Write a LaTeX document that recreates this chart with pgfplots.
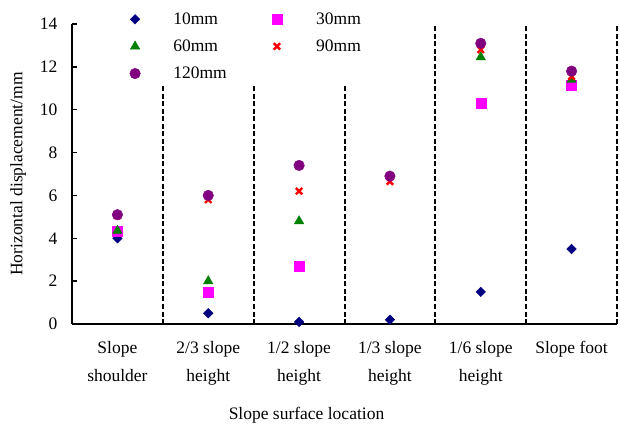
\documentclass[border=0pt]{standalone}
\usepackage{fontspec}
\setmainfont{Liberation Serif}
\usepackage{pgfplots}
\pgfplotsset{compat=1.18}

\definecolor{cNavy}{RGB}{0,0,128}
\definecolor{cMag}{RGB}{255,0,255}
\definecolor{cGreen}{RGB}{0,128,0}
\definecolor{cRed}{RGB}{255,0,0}
\definecolor{cPurple}{RGB}{128,0,128}

\newcommand{\lbl}{\fontsize{17.5}{28}\selectfont}

\begin{document}
\begin{tikzpicture}
\useasboundingbox (-72pt,-101pt) rectangle (548pt,324pt);
\begin{axis}[
  scale only axis,
  width=545pt, height=300pt,
  xmin=-0.5, xmax=5.5,
  ymin=0, ymax=14,
  axis x line*=bottom,
  axis y line*=left,
  axis line style={line width=1.3pt},
  xtick={0,1,2,3,4,5},
  xticklabels={{Slope\\shoulder},{2/3 slope\\height},{1/2 slope\\height},{1/3 slope\\height},{1/6 slope\\height},{Slope foot\\\strut}},
  xticklabel style={align=center, font=\lbl, yshift=-14pt},
  major x tick style={draw=none},
  ytick={0,2,...,14},
  ytick align=inside,
  major tick length=5pt,
  y tick style={line width=1.3pt, black},
  yticklabel style={font=\lbl, xshift=-11pt},
  /pgf/number format/assume math mode=true,
  ylabel={Horizontal displacement/mm},
  ylabel style={font=\lbl, yshift=7pt},
  xlabel={Slope surface location},
  xlabel style={font=\lbl, yshift=-10pt, xshift=-38pt},
  legend columns=2,
  legend cell align=left,
  legend image code/.code={
    \path (0pt,0pt) (42pt,0pt);
    \draw[#1] plot coordinates {(6pt,0pt)};
  },
  legend style={draw=none, fill=none, font=\lbl,
    at={(0.104,1.045)}, anchor=north west,
    inner sep=0pt,
    /tikz/every even column/.append style={column sep=41pt},
    row sep=10pt},
  clip=false,
]
% separators between locations
\tikzset{sep/.style={dash pattern=on 5pt off 2.5pt, line width=1.9pt}}
\draw[sep] (axis cs:0.5,0) -- (axis cs:0.5,11.1);
\draw[sep] (axis cs:1.5,0) -- (axis cs:1.5,11.1);
\draw[sep] (axis cs:2.505,0) -- (axis cs:2.505,11.1);
\draw[sep] (axis cs:3.5,0) -- (axis cs:3.5,14);
\draw[sep] (axis cs:4.5,0) -- (axis cs:4.5,14);
\draw[sep] (axis cs:5.5,0) -- (axis cs:5.5,14);

\addplot[only marks, mark=square*, mark size=3.4pt, color=cNavy, mark options={rotate=45}]
  coordinates {(0,4.0) (1,0.5) (2,0.1) (3,0.2) (4,1.5) (5,3.5)};
\addlegendentry{10mm}
\addplot[only marks, mark=square*, mark size=5pt, color=cMag]
  coordinates {(0,4.35) (1,1.5) (2,2.7) (4,10.3) (5,11.15)};
\addlegendentry{30mm}
\addplot[only marks, mark=triangle*, mark size=5.5pt, color=cGreen]
  coordinates {(0,4.35) (1,2.0) (2,4.8) (4,12.45) (5,11.4)};
\addlegendentry{60mm}
\addplot[only marks, mark=x, mark size=4.5pt, line width=2.4pt, color=cRed]
  coordinates {(0,5.05) (1,5.8) (2,6.2) (3,6.65) (4,12.8) (5,11.55)};
\addlegendentry{90mm}
\addplot[only marks, mark=*, mark size=5.3pt, color=cPurple]
  coordinates {(0,5.1) (1,6.0) (2,7.4) (3,6.9) (4,13.1) (5,11.8)};
\addlegendentry{120mm}
\end{axis}
\end{tikzpicture}
\end{document}
